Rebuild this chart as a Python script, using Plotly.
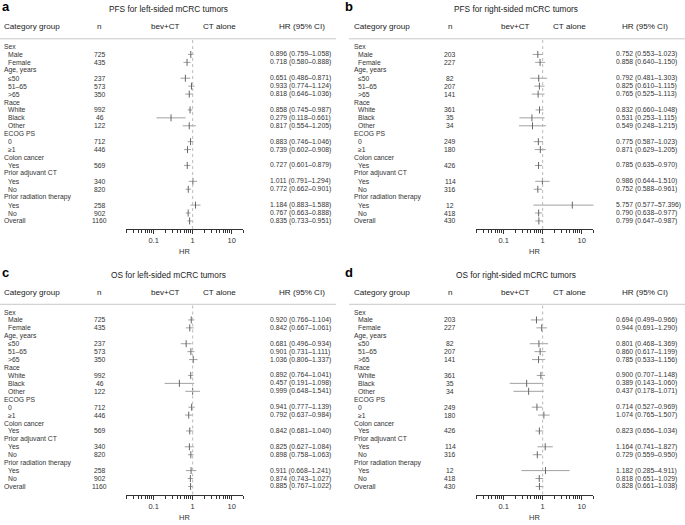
import math
import plotly.graph_objects as go

W, H = 685, 525

# ---------------- data ----------------
row_labels = ["Sex", "Male", "Female", "Age, years", "≤50", "51–65", ">65",
              "Race", "White", "Black", "Other", "ECOG PS", "0", "≥1",
              "Colon cancer", "Yes", "Prior adjuvant CT", "Yes", "No",
              "Prior radiation therapy", "Yes", "No", "Overall"]
is_group = [True, False, False, True, False, False, False,
            True, False, False, False, True, False, False,
            True, False, True, False, False,
            True, False, False, True]
data_rows = [1, 2, 4, 5, 6, 8, 9, 10, 12, 13, 15, 17, 18, 20, 21, 22]

panel_letters = ["a", "b", "c", "d"]
panel_titles = ["PFS for left-sided mCRC tumors", "PFS for right-sided mCRC tumors",
                "OS for left-sided mCRC tumors", "OS for right-sided mCRC tumors"]
header_labels = ["Category group", "n", "bev+CT", "CT alone", "HR (95% CI)"]
axis_title = "HR"
major_ticks = [0.1, 1, 10]
major_tick_text = ["0.1", "1", "10"]
minor_ticks = [0.02, 0.03, 0.04, 0.05, 0.06, 0.07, 0.08, 0.09,
               0.2, 0.3, 0.4, 0.5, 0.6, 0.7, 0.8, 0.9,
               2, 3, 4, 5, 6, 7, 8, 9, 20]

n_left = [725, 435, 237, 573, 350, 992, 46, 122, 712, 446, 569, 340, 820, 258, 902, 1160]
n_right = [203, 227, 82, 207, 141, 361, 35, 34, 249, 180, 426, 114, 316, 12, 418, 430]

hr_a = [0.896, 0.718, 0.651, 0.933, 0.818, 0.858, 0.279, 0.817, 0.883, 0.739, 0.727, 1.011, 0.772, 1.184, 0.767, 0.835]
lo_a = [0.759, 0.580, 0.486, 0.774, 0.646, 0.745, 0.118, 0.554, 0.746, 0.602, 0.601, 0.791, 0.662, 0.883, 0.663, 0.733]
hi_a = [1.058, 0.888, 0.871, 1.124, 1.036, 0.987, 0.661, 1.205, 1.046, 0.908, 0.879, 1.294, 0.901, 1.588, 0.888, 0.951]

hr_b = [0.752, 0.858, 0.792, 0.825, 0.765, 0.832, 0.531, 0.549, 0.775, 0.871, 0.785, 0.986, 0.752, 5.757, 0.790, 0.799]
lo_b = [0.553, 0.640, 0.481, 0.610, 0.525, 0.660, 0.253, 0.248, 0.587, 0.629, 0.635, 0.644, 0.588, 0.577, 0.638, 0.647]
hi_b = [1.023, 1.150, 1.303, 1.115, 1.113, 1.048, 1.115, 1.215, 1.023, 1.205, 0.970, 1.510, 0.961, 57.396, 0.977, 0.987]

hr_c = [0.920, 0.842, 0.681, 0.901, 1.036, 0.892, 0.457, 0.999, 0.941, 0.792, 0.842, 0.825, 0.898, 0.911, 0.874, 0.885]
lo_c = [0.766, 0.667, 0.496, 0.731, 0.806, 0.764, 0.191, 0.648, 0.777, 0.637, 0.681, 0.627, 0.758, 0.668, 0.743, 0.767]
hi_c = [1.104, 1.061, 0.934, 1.111, 1.337, 1.041, 1.098, 1.541, 1.139, 0.984, 1.040, 1.084, 1.063, 1.241, 1.027, 1.022]

hr_d = [0.694, 0.944, 0.801, 0.860, 0.785, 0.900, 0.389, 0.437, 0.714, 1.074, 0.823, 1.164, 0.729, 1.182, 0.818, 0.828]
lo_d = [0.499, 0.691, 0.468, 0.617, 0.533, 0.707, 0.143, 0.178, 0.527, 0.765, 0.656, 0.741, 0.559, 0.285, 0.651, 0.661]
hi_d = [0.966, 1.290, 1.369, 1.199, 1.156, 1.148, 1.060, 1.071, 0.969, 1.507, 1.034, 1.827, 0.950, 4.911, 1.029, 1.038]

panels = [
    (n_left, hr_a, lo_a, hi_a),
    (n_right, hr_b, lo_b, hi_b),
    (n_left, hr_c, lo_c, hi_c),
    (n_right, hr_d, lo_d, hi_d),
]

# ---------------- layout geometry (pixels) ----------------
FONT = "Liberation Sans, Arial, Helvetica, sans-serif"
OX = [0, 350, 0, 350]
OY = [0, 0, 265.5, 265.5]
LETTER_X = [0, 343, 0, 343]
TITLE_CX = [168, 516, 168, 516]
HRCOL_X = [268, 614, 268, 614]
HRHEAD_CX = [302, 645, 302, 645]
LINE_X = [(0, 336), (349, 685), (0, 336), (349, 685)]
Y_LETTER, Y_TITLE, Y_HEAD, Y_LINE = 7.0, 9.0, 26.8, 38.8
ROW0, ROWSTEP = 46.5, 7.93
Y_AXIS, Y_HR = 229.0, 251.7
AX_L, AX_R = 126.4, 243.4

TXT = "#333333"


def px(x):
    return x / W


def py(y):
    return 1 - y / H


fig = go.Figure()
annotations = []
shapes = []
layout_axes = {}

for i, (nn, hr, lo, hi) in enumerate(panels):
    k = "" if i == 0 else str(i + 1)
    xa, ya = "x" + k, "y" + k
    ox, oy = OX[i], OY[i]

    top_r = (Y_LINE - ROW0) / ROWSTEP
    bot_r = (Y_AXIS - ROW0) / ROWSTEP

    layout_axes["xaxis" + k] = dict(
        type="log", range=[math.log10(0.02), math.log10(20)],
        domain=[px(ox + AX_L), px(ox + AX_R)], anchor=ya,
        showline=True, linecolor="#333", linewidth=1,
        ticks="outside", ticklen=4, tickwidth=1, tickcolor="#333",
        tickmode="array", tickvals=major_ticks, ticktext=major_tick_text,
        minor=dict(tickmode="array", tickvals=minor_ticks, ticks="outside",
                   ticklen=3, tickwidth=1, tickcolor="#333", showgrid=False),
        tickfont=dict(family=FONT, size=7.5, color=TXT),
        showgrid=False, zeroline=False, fixedrange=True,
    )
    layout_axes["yaxis" + k] = dict(
        domain=[py(oy + Y_AXIS), py(oy + Y_LINE)], anchor=xa,
        range=[bot_r, top_r], visible=False, fixedrange=True,
    )

    fig.add_trace(go.Scatter(
        x=hr, y=data_rows, xaxis=xa, yaxis=ya, mode="markers",
        marker=dict(symbol="line-ns-open", size=5, color="#666",
                    line=dict(width=1, color="#666")),
        error_x=dict(type="data", symmetric=False,
                     array=[h - m for h, m in zip(hi, hr)],
                     arrayminus=[m - l for m, l in zip(hr, lo)],
                     width=0, thickness=1, color="#a0a0a0"),
        showlegend=False, hoverinfo="skip",
    ))

    # reference line at HR = 1
    shapes.append(dict(type="line", xref=xa, yref=ya + " domain",
                       x0=1, x1=1, y0=0, y1=1,
                       line=dict(color="#bbbbbb", width=1, dash="dot")))
    # header separator
    shapes.append(dict(type="line", xref="paper", yref="paper",
                       x0=px(LINE_X[i][0]), x1=px(LINE_X[i][1]),
                       y0=py(oy + Y_LINE), y1=py(oy + Y_LINE),
                       line=dict(color="#c8c8c8", width=1)))

    # panel letter and title
    annotations.append(dict(text="<b>%s</b>" % panel_letters[i], xref="paper", yref="paper",
                            x=px(LETTER_X[i]), y=py(oy + Y_LETTER), xanchor="left",
                            yanchor="middle", showarrow=False,
                            font=dict(family=FONT, size=13, color="#000")))
    annotations.append(dict(text=panel_titles[i], xref="paper", yref="paper",
                            x=px(TITLE_CX[i]), y=py(oy + Y_TITLE),
                            xanchor="center", yanchor="middle", showarrow=False,
                            font=dict(family=FONT, size=8.3, color="#222")))
    # headers
    head_pos = [(ox + 2, "left"), (ox + 100, "center"), (ox + 165, "center"),
                (ox + 219.5, "center"), (HRHEAD_CX[i], "center")]
    for lab, (hx, anc) in zip(header_labels, head_pos):
        annotations.append(dict(text=lab, xref="paper", yref="paper",
                                x=px(hx), y=py(oy + Y_HEAD), xanchor=anc,
                                yanchor="middle", showarrow=False,
                                font=dict(family=FONT, size=8.1, color="#222")))
    # row labels
    for r, (lab, g) in enumerate(zip(row_labels, is_group)):
        annotations.append(dict(text=lab, xref="paper", yref=ya,
                                x=px(ox + (1.5 if g else 5.5)), y=r,
                                xanchor="left", yanchor="middle", showarrow=False,
                                font=dict(family=FONT, size=6.8, color=TXT)))
    # n and HR text
    for r, n_, h, l, u in zip(data_rows, nn, hr, lo, hi):
        annotations.append(dict(text=str(n_), xref="paper", yref=ya,
                                x=px(ox + 100), y=r, xanchor="center",
                                yanchor="middle", showarrow=False,
                                font=dict(family=FONT, size=6.8, color=TXT)))
        annotations.append(dict(text="%.3f (%.3f–%.3f)" % (h, l, u), xref="paper", yref=ya,
                                x=px(HRCOL_X[i]), y=r, xanchor="left",
                                yanchor="middle", showarrow=False,
                                font=dict(family=FONT, size=6.8, color=TXT)))
    # axis title
    annotations.append(dict(text=axis_title, xref="paper", yref="paper",
                            x=px(ox + (AX_L + AX_R) / 2), y=py(oy + Y_HR),
                            xanchor="center", yanchor="middle", showarrow=False,
                            font=dict(family=FONT, size=7.5, color=TXT)))

fig.update_layout(
    width=W, height=H, margin=dict(l=0, r=0, t=0, b=0),
    paper_bgcolor="white", plot_bgcolor="white",
    annotations=annotations, shapes=shapes,
    font=dict(family=FONT), showlegend=False,
    **layout_axes,
)

fig.write_html("out.html", config={"displayModeBar": False},
               post_script="document.body.style.margin='0';document.body.style.overflow='hidden';")
